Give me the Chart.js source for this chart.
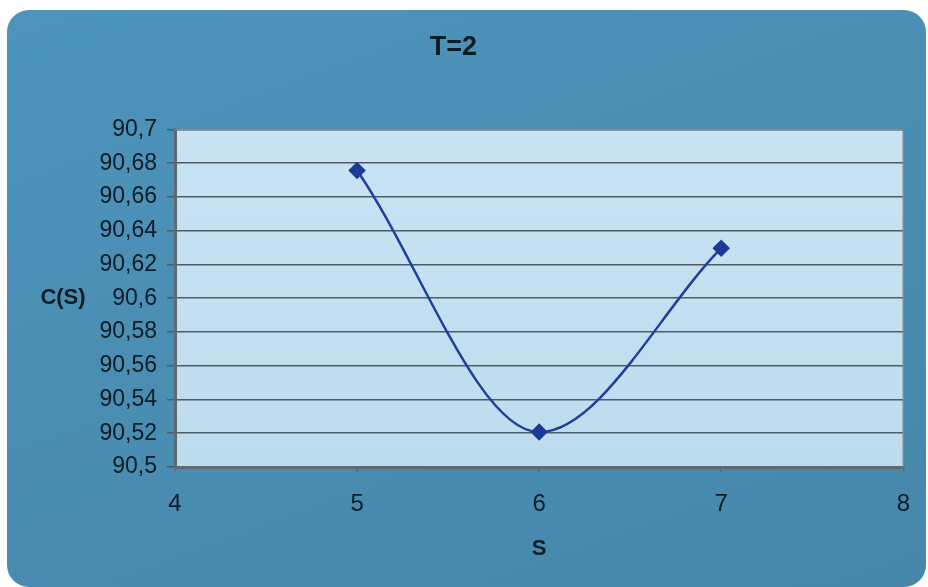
<!DOCTYPE html>
<html>
<head>
<meta charset="utf-8">
<script src="https://cdn.jsdelivr.net/npm/chart.js@4/dist/chart.umd.min.js"></script>
<style>
html, body { margin: 0; padding: 0; background: #fff; }
#card {
	position: absolute; left: 7px; top: 10px; width: 919px; height: 577px;
	border-radius: 22px;
	background: linear-gradient(160deg, #4d94bb 0%, #4a8db3 50%, #4686ab 100%);
}
#wrap { position: absolute; left: 0; top: 0; width: 928px; height: 587px; }
</style>
</head>
<body>
<div id="card"></div>
<div id="wrap"><canvas id="chart" width="928" height="587"></canvas></div>
<script>
var s_values = [5, 6, 7];
var c_values = [90.6757, 90.5207, 90.6296];
var x_ticks = [4, 5, 6, 7, 8];
var y_ticks = [90.5, 90.52, 90.54, 90.56, 90.58, 90.6, 90.62, 90.64, 90.66, 90.68, 90.7];

var text_col = "#0f1c24";
var font_fam = "'Liberation Sans', Arial, sans-serif";

function comma(v) {
	return String(+v.toFixed(2)).replace(".", ",");
}

// light plot area + thin frame
var plotBg = {
	id: "plotBg",
	beforeDraw(chart) {
		var a = chart.chartArea, ctx = chart.ctx;
		var g = ctx.createLinearGradient(0, a.top, 0, a.bottom);
		g.addColorStop(0, "#c9e3f3");
		g.addColorStop(1, "#bddcee");
		ctx.save();
		ctx.fillStyle = g;
		ctx.fillRect(a.left, a.top, a.right - a.left, a.bottom - a.top);
		ctx.restore();
	},
	afterDraw(chart) {
		var a = chart.chartArea, ctx = chart.ctx;
		ctx.save();
		ctx.strokeStyle = "#7d8a90";
		ctx.lineWidth = 1.5;
		ctx.beginPath();
		ctx.moveTo(a.left, a.top);
		ctx.lineTo(a.right, a.top);
		ctx.lineTo(a.right, a.bottom);
		ctx.stroke();
		// horizontal y title
		ctx.fillStyle = text_col;
		ctx.font = "bold 22px " + font_fam;
		ctx.textAlign = "center";
		ctx.textBaseline = "middle";
		ctx.fillText("C(S)", 63, chart.scales.y.getPixelForValue(90.6));
		ctx.restore();
	}
};

new Chart(document.getElementById("chart"), {
	type: "scatter",
	data: {
		datasets: [{
			data: s_values.map((s, i) => ({ x: s, y: c_values[i] })),
			showLine: true,
			cubicInterpolationMode: "monotone",
			borderColor: "#213f9c",
			borderWidth: 2.5,
			pointStyle: "rectRot",
			pointRadius: 7,
			pointBackgroundColor: "#1c3a98",
			pointBorderColor: "#1c3a98"
		}]
	},
	options: {
		responsive: false,
		animation: false,
		layout: { padding: { left: 0, right: 21, top: 0, bottom: 25 } },
		plugins: {
			legend: { display: false },
			tooltip: { enabled: false },
			title: {
				display: true,
				text: "T=2",
				color: text_col,
				font: { family: font_fam, size: 27, weight: "bold" },
				padding: { top: 31, bottom: 66 }
			}
		},
		scales: {
			x: {
				type: "linear",
				min: 4, max: 8,
				afterBuildTicks: (axis) => { axis.ticks = x_ticks.map(v => ({ value: v })); },
				afterFit: (axis) => { axis.height = 95; },
				ticks: {
					color: text_col,
					padding: 18,
					font: { family: font_fam, size: 24 }
				},
				grid: { drawOnChartArea: false, drawTicks: true, tickLength: 5, color: "#5d6a70", lineWidth: 1.5 },
				border: { color: "#5d6a70", width: 3 },
				title: {
					display: true,
					text: "S",
					color: text_col,
					font: { family: font_fam, size: 22, weight: "bold" },
					padding: { top: 0, bottom: 0 }
				}
			},
			y: {
				min: 90.5, max: 90.7,
				afterBuildTicks: (axis) => { axis.ticks = y_ticks.map(v => ({ value: v })); },
				afterFit: (axis) => { axis.width = 175; },
				ticks: {
					color: text_col,
					padding: 10,
					callback: (v) => comma(v),
					font: { family: font_fam, size: 23 }
				},
				grid: { color: "#4f5c63", lineWidth: 1.5, tickLength: 8 },
				border: { color: "#5d6a70", width: 3 }
			}
		}
	},
	plugins: [plotBg]
});
</script>
</body>
</html>
